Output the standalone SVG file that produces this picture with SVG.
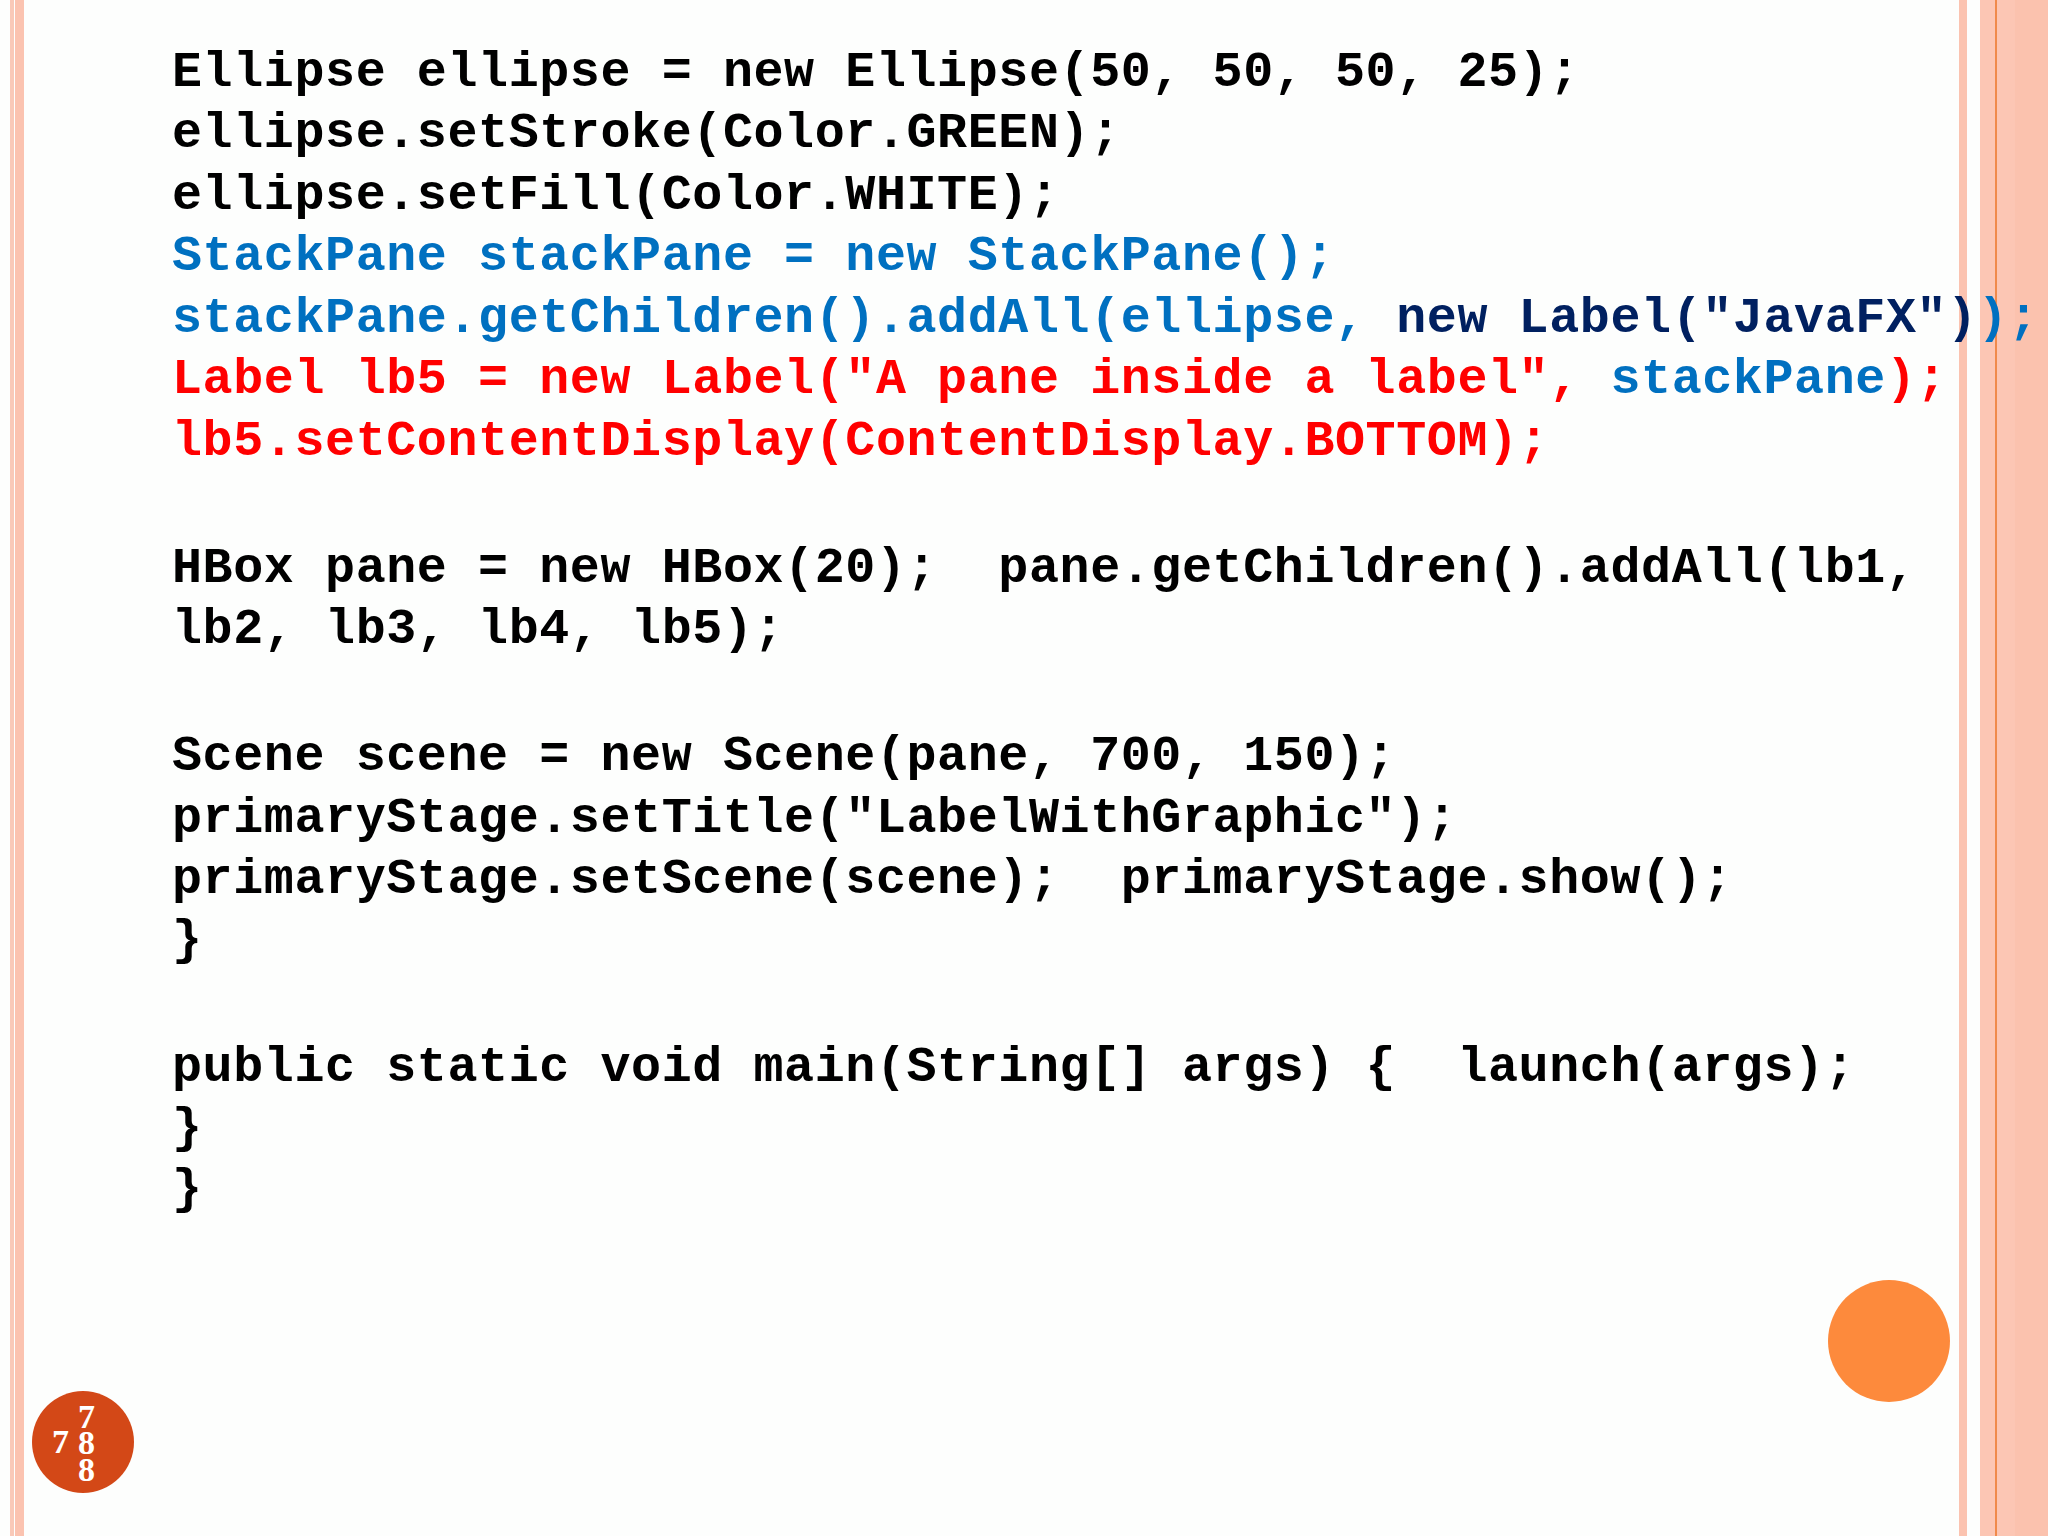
<svg xmlns="http://www.w3.org/2000/svg" width="2048" height="1536" viewBox="0 0 2048 1536">
<style>
.c{font-family:"Liberation Mono","Courier New",monospace;font-weight:bold;font-size:50px;fill:#000;letter-spacing:0.6px;white-space:pre}
.b{fill:#0070C0}.n{fill:#002060}.r{fill:#FF0000}
.pn{font-family:"Liberation Serif","Times New Roman",serif;font-weight:bold;fill:#fff;font-size:34px}
</style>
<rect width="2048" height="1536" fill="#fdfefd"/>
<g id="borders">
<rect x="10" y="0" width="4" height="1536" fill="#f9c9b8"/>
<rect x="15" y="0" width="9" height="1536" fill="#fbc3b0"/>
<rect x="1959" y="0" width="8" height="1536" fill="#fbc3b0"/>
<rect x="1980" y="0" width="68" height="1536" fill="#fcc6b4"/>
<rect x="2015" y="0" width="33" height="1536" fill="#fbc2ae"/>
<rect x="1995" y="0" width="2" height="1536" fill="#f08a4b"/>
</g>
<g id="code" class="c" xml:space="preserve">
<text x="172" y="86">Ellipse ellipse = new Ellipse(50, 50, 50, 25);</text>
<text x="172" y="147">ellipse.setStroke(Color.GREEN);</text>
<text x="172" y="209">ellipse.setFill(Color.WHITE);</text>
<text x="172" y="270" class="c b">StackPane stackPane = new StackPane();</text>
<text x="172" y="332"><tspan class="b">stackPane.getChildren().addAll(ellipse, </tspan><tspan class="n">new Label("JavaFX")</tspan><tspan class="b">);</tspan></text>
<text x="172" y="393"><tspan class="r">Label lb5 = new Label("A pane inside a label", </tspan><tspan class="b">stackPane</tspan><tspan class="r">);</tspan></text>
<text x="172" y="455" class="c r">lb5.setContentDisplay(ContentDisplay.BOTTOM);</text>
<text x="172" y="582">HBox pane = new HBox(20);&#160; pane.getChildren().addAll(lb1,</text>
<text x="172" y="643">lb2, lb3, lb4, lb5);</text>
<text x="172" y="770">Scene scene = new Scene(pane, 700, 150);</text>
<text x="172" y="832">primaryStage.setTitle("LabelWithGraphic");</text>
<text x="172" y="893">primaryStage.setScene(scene);&#160; primaryStage.show();</text>
<text x="172" y="954">}</text>
<text x="172" y="1081">public static void main(String[] args) {&#160; launch(args);</text>
<text x="172" y="1142">}</text>
<text x="172" y="1203">}</text>
</g>
<g id="orange-dot"><circle cx="1889" cy="1341" r="61" fill="#fd8a3c"/></g>
<g id="page-number">
<circle cx="83" cy="1442" r="51" fill="#d34817"/>
<text class="pn" x="52" y="1453">7</text>
<text class="pn" x="78" y="1428">7</text>
<text class="pn" x="78" y="1454">8</text>
<text class="pn" x="78" y="1481">8</text>
</g>
</svg>
